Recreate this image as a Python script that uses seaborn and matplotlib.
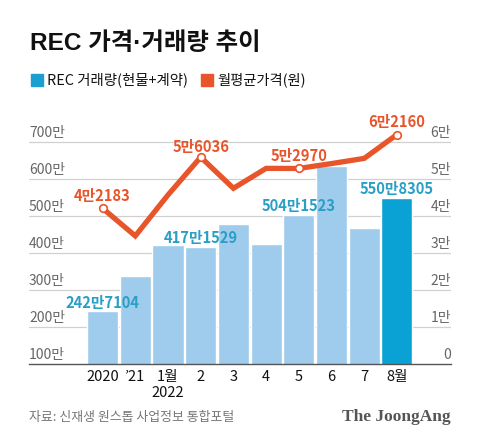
import numpy as np
import pandas as pd
import matplotlib
matplotlib.use("Agg")
import matplotlib.pyplot as plt
from matplotlib.patches import Rectangle
import seaborn as sns

# ---- data ----
categories = ["2020", "’21", "1월\n2022", "2", "3", "4", "5", "6", "7", "8월"]
volume_man = [242.71, 339, 421, 417.15, 479, 426, 504.15, 635, 469, 550.83]   # 만 (REC 거래량)
price_won = [42183, 34700, 45800, 56036, 47600, 53000, 52970, 54300, 55700, 62160]  # 원 (월평균가격)
volume_labels = {0: "242만7104", 3: "417만1529", 6: "504만1523", 9: "550만8305"}
price_labels = {0: "4만2183", 3: "5만6036", 6: "5만2970", 9: "6만2160"}
left_ticks = [100, 200, 300, 400, 500, 600, 700]
left_ticklabels = ["100만", "200만", "300만", "400만", "500만", "600만", "700만"]
right_ticks = [0, 10000, 20000, 30000, 40000, 50000, 60000]
right_ticklabels = ["0", "1만", "2만", "3만", "4만", "5만", "6만"]

LIGHT = "#9fcbec"
DARK = "#0aa2d4"
BLUE_TXT = "#2a9fc6"
ORANGE = "#e8552a"

sns.set_theme(style="white")
plt.rcParams["font.family"] = ["Noto Sans CJK KR", "DejaVu Sans"]

fig = plt.figure(figsize=(4.8, 4.45), dpi=100)
ax = fig.add_axes([0.0604, 0.182, 0.879, 0.571])

pos = np.arange(len(categories))
df = pd.DataFrame({"pos": pos, "cat": categories, "vol": volume_man})
palette = [LIGHT] * (len(categories) - 1) + [DARK]
sns.barplot(data=df, x="pos", y="vol", hue="pos", palette=palette, legend=False,
            width=0.95, native_scale=True, ax=ax, zorder=2, saturation=1)

ax.set_xlim(-2.25, 10.65)
ax.set_ylim(100, 788)
ax.set_xticks(pos)
ax.set_xticklabels(categories, fontsize=10.5, color="#111")
ax.tick_params(axis="x", direction="in", length=5, width=0.9, color="#555", pad=4)
ax.set_yticks([])
ax.set_xlabel("")
ax.set_ylabel("")
for s in ["top", "left", "right"]:
    ax.spines[s].set_visible(False)
ax.spines["bottom"].set_color("#555")
ax.spines["bottom"].set_linewidth(1.0)
for v in left_ticks[1:]:
    ax.axhline(v, color="#d0d0d0", lw=0.9, zorder=1)
for v, lab in zip(left_ticks, left_ticklabels):
    ax.annotate(lab, xy=(0, v), xycoords=("axes fraction", "data"),
                xytext=(0, 6.5), textcoords="offset points",
                ha="left", va="center", fontsize=10, color="#666")

# bar value labels
for i, lab in volume_labels.items():
    ax.annotate(lab, xy=(pos[i], volume_man[i]), xytext=(0, 6.3),
                textcoords="offset points", ha="center", va="center",
                fontsize=10.6, fontweight="bold", color=BLUE_TXT, zorder=6)

# line on twin axis
ax2 = ax.twinx()
ax2.set_ylim(0, 68830)
ax2.set_yticks([])
for s in ["top", "left", "right", "bottom"]:
    ax2.spines[s].set_visible(False)
ldf = pd.DataFrame({"pos": pos, "price": price_won})
sns.lineplot(data=ldf, x="pos", y="price", color=ORANGE, lw=3.8, ax=ax2,
             solid_joinstyle="miter", zorder=4)
mk = list(price_labels.keys())
sns.scatterplot(x=pos[mk], y=np.array(price_won)[mk], ax=ax2, s=30,
                facecolor="white", edgecolor=ORANGE, linewidth=1.2, zorder=5)
ax2.set_xlabel("")
ax2.set_ylabel("")
for v, lab in zip(right_ticks, right_ticklabels):
    ax2.annotate(lab, xy=(1, v), xycoords=("axes fraction", "data"),
                 xytext=(0, 6.5), textcoords="offset points",
                 ha="right", va="center", fontsize=10, color="#666")
for i, lab in price_labels.items():
    off = 7.2 if i == 3 else 8.8
    ax2.annotate(lab, xy=(pos[i], price_won[i]), xytext=(0, off),
                 textcoords="offset points", ha="center", va="center",
                 fontsize=10.6, fontweight="bold", color=ORANGE, zorder=6)

# title and legend
fig.text(30 / 480, 1 - 43 / 445, "REC 가격·거래량 추이", fontsize=17.6,
         fontweight="bold", family=["Liberation Sans", "Noto Sans CJK KR"],
         color="#111", ha="left", va="center")
fig.patches.append(Rectangle((30.7 / 480, 1 - 86 / 445), 12 / 480, 12 / 445,
                             transform=fig.transFigure, color="#1aa0d0"))
fig.text(47 / 480, 1 - 80 / 445, "REC 거래량(현물+계약)", fontsize=10.4,
         color="#111", ha="left", va="center")
fig.patches.append(Rectangle((201 / 480, 1 - 86 / 445), 12 / 480, 12 / 445,
                             transform=fig.transFigure, color=ORANGE))
fig.text(217 / 480, 1 - 80 / 445, "월평균가격(원)", fontsize=10.3,
         color="#111", ha="left", va="center")

# footer
fig.text(29 / 480, 1 - 417 / 445, "자료: 신재생 원스톱 사업정보 통합포털", fontsize=9.3,
         color="#777", ha="left", va="center")
fig.text(451 / 480, 1 - 417 / 445, "The JoongAng", fontsize=12.5,
         fontweight="bold", family=["Liberation Serif", "DejaVu Serif"],
         color="#555", ha="right", va="center")

fig.savefig("out.png", dpi=100)
